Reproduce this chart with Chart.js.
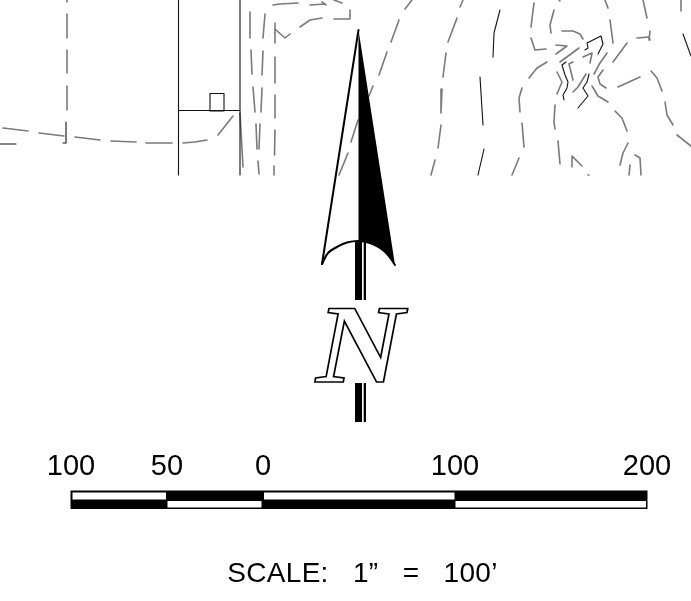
<!DOCTYPE html>
<html>
<head>
<meta charset="utf-8">
<script src="https://cdn.jsdelivr.net/npm/chart.js@4"></script>
<style>
  html, body { margin: 0; padding: 0; background: #fff; }
  canvas { display: block; }
</style>
</head>
<body>
<canvas id="north" width="691" height="601"></canvas>
<script>
// everything is in drawing units: one unit on the axes is one pixel of the sheet
const greyDashes = [
  [[67,0],[67,2]], [[67,14],[67,38]], [[67,50],[67,73]], [[67,86],[67,110]],
  [[3,128],[28,131]], [[39,133],[64,136]], [[75,137],[100,140]], [[111,141],[136,142]],
  [[146,143],[172,143]], [[183,143],[195,142],[207,140]], [[218,135],[233,116]],
  [[240,113],[243,167]],
  [[250,12],[250,38]], [[251,50],[252,74]], [[253,87],[255,112]], [[256,124],[257,149]], [[258,161],[259,174]],
  [[265,14],[263,38]], [[263,51],[262,75]], [[262,88],[261,112]], [[260,124],[259,149]],
  [[275,23],[275,43]], [[275,57],[275,83]], [[275,95],[275,118]], [[275,130],[274.5,155]], [[274,166],[274,175]],
  [[275,29],[285,38],[290,34]],
  [[273,5],[280,4],[298,3]], [[310,5],[325,4]], [[322,2],[326,5]], [[334,0],[342,3]],
  [[300,27],[310,20],[322,18]], [[334,19],[350,19],[350,10]],
  [[412,0],[405,9]], [[399,20],[391,42]], [[387,52],[379,75]], [[373,86],[369,96]],
  [[358,120],[351,142]], [[348,153],[339,175]],
  [[463,0],[460,7]], [[457,18],[448,42]], [[446,53],[443,77]], [[442,89],[441,113]],
  [[441,125],[438,148]], [[435,160],[431,175]],
  [[534,3],[531,27]], [[531,38],[535,50],[546,49]], [[547,62],[537,68],[529,78]],
  [[522,88],[519,98],[520,112]], [[522,123],[524,147]], [[519,158],[512,175]],
  [[554,10],[550,25],[551,33]], [[555,105],[554,122],[555,129]], [[558,141],[560,164]],
  [[562,31],[573,31],[580,34],[583,39]], [[556,54],[567,46],[556,45]], [[560,62],[579,48]],
  [[557,72],[562,82],[557,94]], [[573,62],[569,64],[573,80]], [[586,74],[578,87],[573,92]],
  [[583,57],[592,53],[590,63]], [[607,53],[600,63],[594,74]], [[603,70],[598,77],[600,84],[606,88]],
  [[592,86],[598,96],[608,102]], [[605,0],[608,8]], [[610,20],[613,43]], [[627,43],[613,62]],
  [[640,77],[618,87]], [[615,111],[622,118],[627,131]], [[628,143],[623,153],[620,165]],
  [[635,155],[640,158],[641,175]], [[630,165],[629,175]], [[572,167],[572,156],[582,166]],
  [[588,175],[589,175]], [[643,0],[647,18]], [[637,38],[649,37],[650,40]], [[650,31],[649,40]],
  [[651,71],[657,78],[662,91]], [[665,102],[667,115],[673,125]], [[677,135],[691,146]],
  [[681,0],[681,11]], [[559,0],[560,1]]
];

const thinLines = [
  [[178.5,0],[178.5,175]], [[240,0],[240,175]], [[179,110.5],[240,110.5]],
  [[210,111],[210,93.5],[224,93.5],[224,111],[210,111]],
  [[0,144],[16,144]], [[66,122],[66,143],[63,143]],
  [[500,10],[494,33],[493,57]], [[480,77],[483,125]], [[484,149],[478,175]],
  [[585,50],[588,48],[587,43],[601,36],[603,44],[598,54]],
  [[566,62],[562,65],[565,75],[568,82],[567,88],[563,95],[564,100]],
  [[589,74],[587,82],[583,88],[588,96],[578,108]],
  [[683,34],[691,56]]
];

const arrowEdge = [[358.5,30],[322,264]];
const arrowArc = [[322,264],[328,253],[337,247],[347,242.5],[358.5,241],[370,243],[380,248],[388,255],[395,265]];
const arrowBlack = [[358.5,30],[395,265],[388,255],[380,248],[370,243],[358.5,241]];
const shaftBars = [
  [[355,241],[362,241],[362,300],[355,300]],
  [[363.7,241],[366,241],[366,300],[363.7,300]],
  [[355,383],[362,383],[362,422],[355,422]],
  [[363.7,383],[366,383],[366,422],[363.7,422]]
];

const barOutline = [[70.5,490.5],[647.5,490.5],[647.5,509],[70.5,509]];
const barWhites = [
  [[72.5,492.5],[166,492.5],[166,499.5],[72.5,499.5]],
  [[264,492.5],[454.5,492.5],[454.5,499.5],[264,499.5]],
  [[167.5,501],[261.5,501],[261.5,507.5],[167.5,507.5]],
  [[455.5,501],[646,501],[646,507.5],[455.5,507.5]]
];
const barTickPos = [71, 167, 263, 455, 647];
const barTickLabels = ['100', '50', '0', '100', '200'];

const northLetter = 'N';
const scaleCaption = 'SCALE:   1”   =   100’';

const toPts = line => line.map(p => ({ x: p[0], y: p[1] }));

function lineSet(line, color, width, tension) {
  return {
    data: toPts(line), showLine: true, borderColor: color, borderWidth: width,
    pointRadius: 0, fill: false, tension: tension || 0,
    borderCapStyle: 'round', borderJoinStyle: 'round'
  };
}
function shapeSet(line, color) {
  return {
    data: toPts(line.concat([line[0]])), showLine: true, borderColor: color, borderWidth: 0,
    backgroundColor: color, pointRadius: 0, fill: 'shape'
  };
}

// first dataset ends up on top
const datasets = [
  ...barWhites.map(r => shapeSet(r, '#fff')),
  shapeSet(barOutline, '#000'),
  lineSet(arrowArc, '#000', 2, 0.4),
  lineSet(arrowEdge, '#000', 2),
  shapeSet(arrowBlack, '#000'),
  ...shaftBars.map(r => shapeSet(r, '#000')),
  ...thinLines.map(l => lineSet(l, '#111', 1.1)),
  ...greyDashes.map(l => lineSet(l, '#7a7a7a', 1.6))
];

const sheetText = {
  id: 'sheetText',
  afterDatasetsDraw(chart) {
    const c = chart.ctx;
    const sx = chart.scales.x, sy = chart.scales.y;
    c.save();
    // the big outlined N
    c.translate(sx.getPixelForValue(360), sy.getPixelForValue(382));
    c.scale(1.08, 1);
    c.font = 'italic bold 113px "Liberation Serif"';
    c.textAlign = 'center';
    c.textBaseline = 'alphabetic';
    c.lineJoin = 'miter';
    c.fillStyle = '#fff';
    c.strokeStyle = '#000';
    c.lineWidth = 1.6;
    c.fillText(northLetter, 0, 0);
    c.strokeText(northLetter, 0, 0);
    c.restore();

    c.save();
    c.font = '28px "Liberation Sans"';
    c.letterSpacing = '0.3px';
    c.textAlign = 'center';
    c.textBaseline = 'alphabetic';
    c.fillStyle = '#000';
    c.fillText(scaleCaption, sx.getPixelForValue(362.5), sy.getPixelForValue(582));
    c.restore();
  }
};

new Chart(document.getElementById('north'), {
  type: 'scatter',
  data: { datasets: datasets },
  plugins: [sheetText],
  options: {
    responsive: false,
    animation: false,
    layout: { padding: 0 },
    plugins: { legend: { display: false }, tooltip: { enabled: false } },
    scales: {
      x: { type: 'linear', min: 0, max: 691, display: false },
      y: { type: 'linear', min: 0, max: 601, reverse: true, display: false },
      xBar: {
        type: 'linear', axis: 'x', min: 0, max: 691,
        position: { y: 442 },
        grid: { display: false },
        border: { display: false },
        afterBuildTicks: axis => { axis.ticks = barTickPos.map(v => ({ value: v })); },
        ticks: {
          autoSkip: false, maxRotation: 0, padding: 0, color: '#000',
          font: { family: '"Liberation Sans"', size: 29 },
          callback: (v, i) => barTickLabels[i]
        }
      }
    }
  }
});
</script>
</body>
</html>
